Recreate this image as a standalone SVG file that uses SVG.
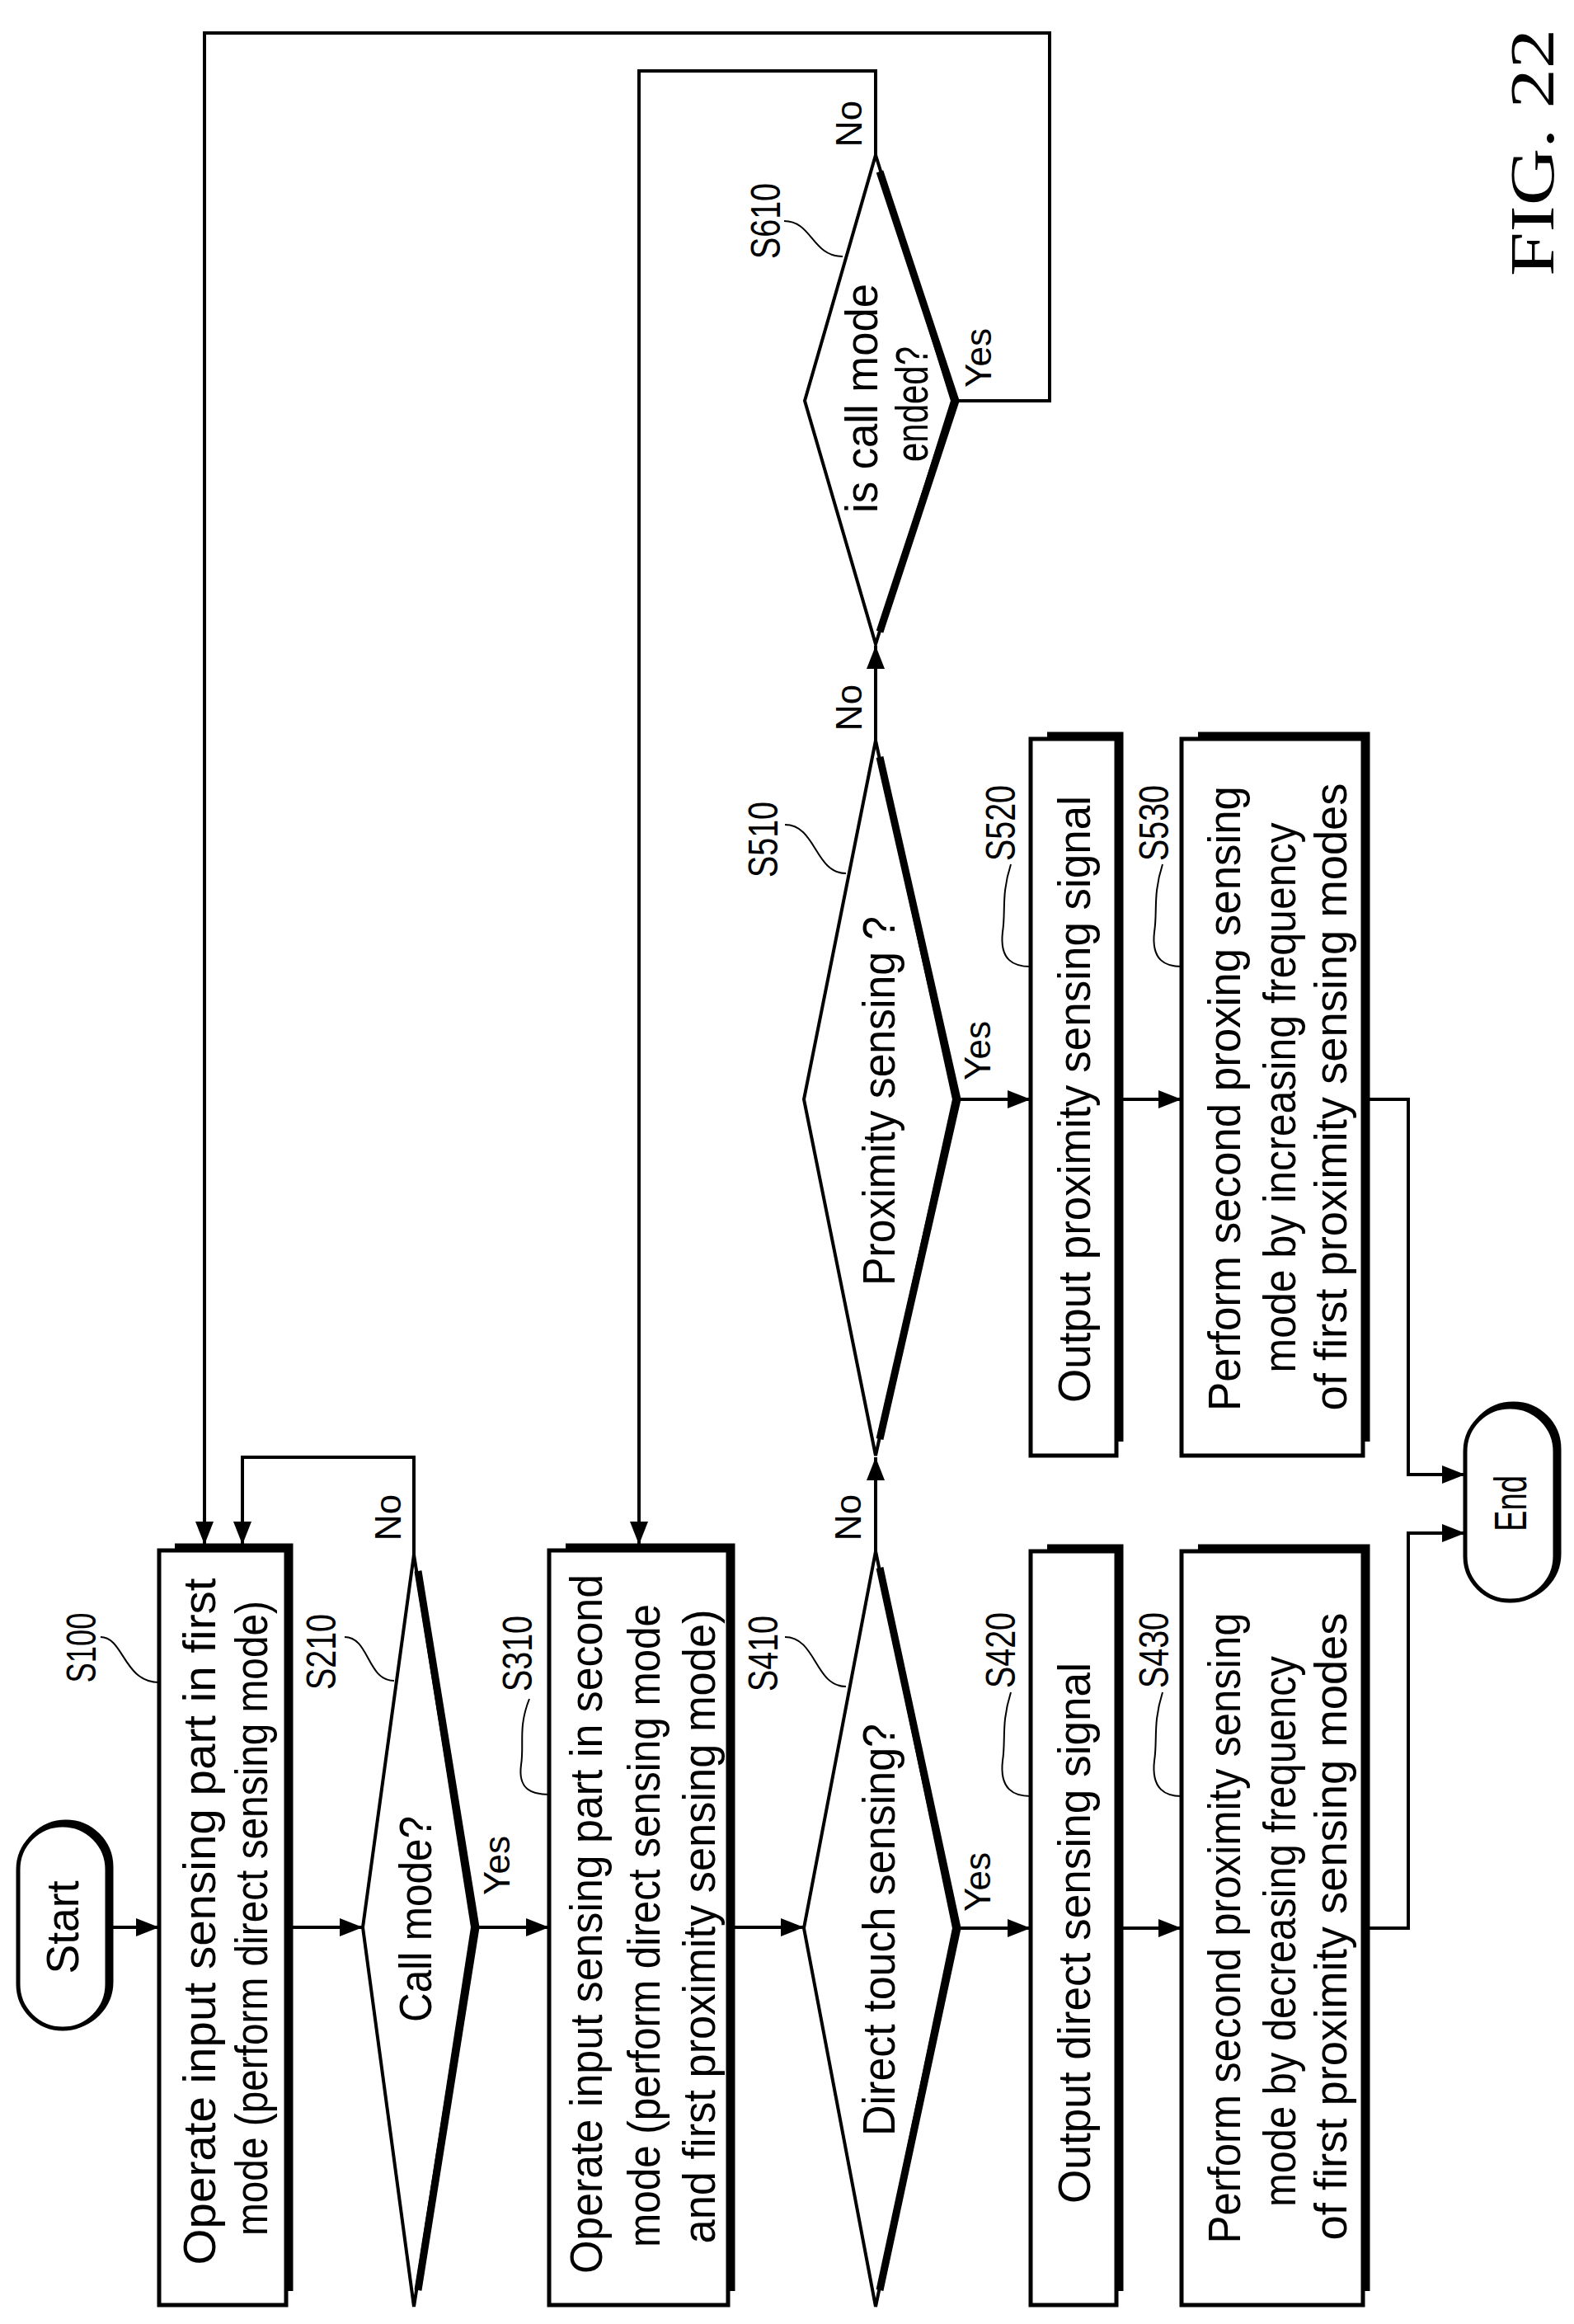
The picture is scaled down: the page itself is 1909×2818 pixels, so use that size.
<svg xmlns="http://www.w3.org/2000/svg" width="1909" height="2818" viewBox="0 0 1909 2818">
<style>
.bg{fill:#fff}
.box{fill:#fff;stroke:#000;stroke-width:5}
.sh{fill:none;stroke:#000;stroke-width:9}
.dia{fill:#fff;stroke:#000;stroke-width:4;stroke-linejoin:miter}
.dsh{fill:none;stroke:#000;stroke-width:9}
.ln{fill:none;stroke:#000;stroke-width:4}
.ld{fill:none;stroke:#000;stroke-width:2}
text{font-family:"Liberation Sans",Arial,sans-serif;fill:#000;text-anchor:middle;dominant-baseline:central}
.t{font-size:55px}
.s{font-size:50px}
.y{font-size:44px}
</style>
<defs>
<marker id="ar" markerUnits="userSpaceOnUse" markerWidth="30" markerHeight="24" refX="28" refY="11" orient="auto">
<path d="M0,0 L28,11 L0,22 z" fill="#000"/>
</marker>
</defs>
<rect class="bg" x="0" y="0" width="1909" height="2818"/>
<text transform="translate(1858,185) rotate(-90)" style="font-family:'Liberation Serif',serif;font-size:76px" textLength="300" lengthAdjust="spacingAndGlyphs">FIG. 22</text>

<g id="connectors">
<path class="ln" d="M132,2337 H193" marker-end="url(#ar)"/>
<path class="ln" d="M352,2337 H440" marker-end="url(#ar)"/>
<path class="ln" d="M573,2337 H666" marker-end="url(#ar)"/>
<path class="ln" d="M887,2337 H975" marker-end="url(#ar)"/>
<path class="ln" d="M1157,2338 H1250" marker-end="url(#ar)"/>
<path class="ln" d="M1361,2338 H1433" marker-end="url(#ar)"/>
<path class="ln" d="M1661,2338 H1708 V1859 H1777" marker-end="url(#ar)"/>
<path class="ln" d="M1157,1333 H1250" marker-end="url(#ar)"/>
<path class="ln" d="M1361,1333 H1433" marker-end="url(#ar)"/>
<path class="ln" d="M1661,1333 H1708 V1788 H1777" marker-end="url(#ar)"/>
<path class="ln" d="M502,1885 V1767 H294 V1873" marker-end="url(#ar)"/>
<path class="ln" d="M1062,1881 V1767" marker-end="url(#ar)"/>
<path class="ln" d="M1062,898 V783" marker-end="url(#ar)"/>
<path class="ln" d="M1062,188 V86 H775 V1873" marker-end="url(#ar)"/>
<path class="ln" d="M1155,486 H1273 V40 H248 V1873" marker-end="url(#ar)"/>
<text class="y" transform="translate(470,1840) rotate(-90)">No</text>
<text class="y" transform="translate(602,2262) rotate(-90)">Yes</text>
<text class="y" transform="translate(1185,2282) rotate(-90)">Yes</text>
<text class="y" transform="translate(1028,1840) rotate(-90)">No</text>
<text class="y" transform="translate(1185,1274) rotate(-90)">Yes</text>
<text class="y" transform="translate(1029,858) rotate(-90)">No</text>
<text class="y" transform="translate(1029,150) rotate(-90)">No</text>
<text class="y" transform="translate(1186,434) rotate(-90)">Yes</text>
</g>

<g id="start">
<rect x="26" y="2210" width="108" height="247" rx="54" fill="none" stroke="#000" stroke-width="7"/>
<rect class="box" x="22" y="2213" width="108" height="247" rx="54"/>
<text class="t" transform="translate(76,2337) rotate(-90)" textLength="113" lengthAdjust="spacingAndGlyphs">Start</text>
</g>

<g id="S100">
<polyline class="sh" points="212,1876 351,1876 351,2778"/>
<rect class="box" x="193" y="1880" width="154" height="915"/>
<text class="t" transform="translate(242,2330) rotate(-90)" textLength="833" lengthAdjust="spacingAndGlyphs">Operate input sensing part in first</text>
<text class="t" transform="translate(305,2326) rotate(-90)" textLength="770" lengthAdjust="spacingAndGlyphs">mode (perform direct sensing mode)</text>
<text class="s" transform="translate(99,1998) rotate(-90)" textLength="85" lengthAdjust="spacingAndGlyphs">S100</text>
<path class="ld" d="M122,1985 C150,1985 150,2040 193,2040"/>
</g>

<g id="S210">
<polygon class="dia" points="502,1885 573,2337 502,2797 440,2337"/>
<polyline class="dsh" points="507,1905 577,2337 507,2777"/>
<text class="t" transform="translate(504,2327) rotate(-90)" textLength="250" lengthAdjust="spacingAndGlyphs">Call mode?</text>
<text class="s" transform="translate(390,2003) rotate(-90)" textLength="92" lengthAdjust="spacingAndGlyphs">S210</text>
<path class="ld" d="M418,1985 C448,1985 445,2038 478,2038"/>
</g>

<g id="S310">
<polyline class="sh" points="686,1876 887,1876 887,2778"/>
<rect class="box" x="666" y="1880" width="217" height="915"/>
<text class="t" transform="translate(711,2333) rotate(-90)" textLength="848" lengthAdjust="spacingAndGlyphs">Operate input sensing part in second</text>
<text class="t" transform="translate(781,2335) rotate(-90)" textLength="780" lengthAdjust="spacingAndGlyphs">mode (perform direct sensing mode</text>
<text class="t" transform="translate(848,2336) rotate(-90)" textLength="769" lengthAdjust="spacingAndGlyphs">and first proximity sensing mode)</text>
<text class="s" transform="translate(628,2005) rotate(-90)" textLength="92" lengthAdjust="spacingAndGlyphs">S310</text>
<path class="ld" d="M642,2060 C628,2095 636,2115 632,2140 C628,2170 645,2176 666,2176"/>
</g>

<g id="S410">
<polygon class="dia" points="1062,1881 1157,2338 1062,2797 975,2338"/>
<polyline class="dsh" points="1067,1901 1161,2338 1067,2777"/>
<text class="t" transform="translate(1066,2340) rotate(-90)" textLength="500" lengthAdjust="spacingAndGlyphs">Direct touch sensing?</text>
<text class="s" transform="translate(926,2005) rotate(-90)" textLength="92" lengthAdjust="spacingAndGlyphs">S410</text>
<path class="ld" d="M952,1985 C990,1985 988,2045 1026,2045"/>
</g>

<g id="S420">
<polyline class="sh" points="1270,1877 1358,1877 1358,2778"/>
<rect class="box" x="1250" y="1881" width="104" height="914"/>
<text class="t" transform="translate(1303,2344) rotate(-90)" textLength="656" lengthAdjust="spacingAndGlyphs">Output direct sensing signal</text>
<text class="s" transform="translate(1214,2001) rotate(-90)" textLength="92" lengthAdjust="spacingAndGlyphs">S420</text>
<path class="ld" d="M1226,2052 C1214,2090 1220,2110 1216,2135 C1212,2170 1230,2178 1250,2178"/>
</g>

<g id="S430">
<polyline class="sh" points="1453,1877 1657,1877 1657,2778"/>
<rect class="box" x="1433" y="1881" width="220" height="914"/>
<text class="t" transform="translate(1485,2338) rotate(-90)" textLength="765" lengthAdjust="spacingAndGlyphs">Perform second proximity sensing</text>
<text class="t" transform="translate(1552,2342) rotate(-90)" textLength="668" lengthAdjust="spacingAndGlyphs">mode by decreasing frequency</text>
<text class="t" transform="translate(1614,2336) rotate(-90)" textLength="761" lengthAdjust="spacingAndGlyphs">of first proximity sensing modes</text>
<text class="s" transform="translate(1400,2001) rotate(-90)" textLength="92" lengthAdjust="spacingAndGlyphs">S430</text>
<path class="ld" d="M1410,2052 C1398,2090 1404,2110 1400,2135 C1396,2170 1414,2178 1433,2178"/>
</g>

<g id="S510">
<polygon class="dia" points="1062,898 1157,1333 1062,1765 975,1333"/>
<polyline class="dsh" points="1067,918 1161,1333 1067,1745"/>
<text class="t" transform="translate(1066,1335) rotate(-90)" textLength="448" lengthAdjust="spacingAndGlyphs">Proximity sensing ?</text>
<text class="s" transform="translate(926,1018) rotate(-90)" textLength="92" lengthAdjust="spacingAndGlyphs">S510</text>
<path class="ld" d="M952,1000 C990,1000 988,1059 1026,1059"/>
</g>

<g id="S520">
<polyline class="sh" points="1270,892 1358,892 1358,1748"/>
<rect class="box" x="1250" y="896" width="104" height="869"/>
<text class="t" transform="translate(1303,1333) rotate(-90)" textLength="736" lengthAdjust="spacingAndGlyphs">Output proximity sensing signal</text>
<text class="s" transform="translate(1214,998) rotate(-90)" textLength="92" lengthAdjust="spacingAndGlyphs">S520</text>
<path class="ld" d="M1226,1048 C1214,1085 1220,1105 1216,1130 C1212,1165 1230,1172 1250,1172"/>
</g>

<g id="S530">
<polyline class="sh" points="1453,892 1657,892 1657,1748"/>
<rect class="box" x="1433" y="896" width="220" height="869"/>
<text class="t" transform="translate(1485,1332) rotate(-90)" textLength="758" lengthAdjust="spacingAndGlyphs">Perform second proxing sensing</text>
<text class="t" transform="translate(1552,1331) rotate(-90)" textLength="667" lengthAdjust="spacingAndGlyphs">mode by increasing frequency</text>
<text class="t" transform="translate(1614,1330) rotate(-90)" textLength="761" lengthAdjust="spacingAndGlyphs">of first proximity sensing modes</text>
<text class="s" transform="translate(1400,998) rotate(-90)" textLength="92" lengthAdjust="spacingAndGlyphs">S530</text>
<path class="ld" d="M1410,1048 C1398,1085 1404,1105 1400,1130 C1396,1165 1414,1172 1433,1172"/>
</g>

<g id="S610">
<polygon class="dia" points="1062,188 1155,486 1062,781 976,486"/>
<polyline class="dsh" points="1067,208 1159,486 1067,766"/>
<text class="t" transform="translate(1045,483) rotate(-90)" textLength="278" lengthAdjust="spacingAndGlyphs">is call mode</text>
<text class="t" transform="translate(1106,490) rotate(-90)" textLength="140" lengthAdjust="spacingAndGlyphs">ended?</text>
<text class="s" transform="translate(929,268) rotate(-90)" textLength="92" lengthAdjust="spacingAndGlyphs">S610</text>
<path class="ld" d="M951,268 C985,268 985,311 1022,311"/>
</g>

<g id="end">
<rect x="1781" y="1703" width="109" height="235" rx="54" fill="none" stroke="#000" stroke-width="7"/>
<rect class="box" x="1777" y="1706" width="109" height="235" rx="54"/>
<text class="t" transform="translate(1832,1823) rotate(-90)" textLength="68" lengthAdjust="spacingAndGlyphs">End</text>
</g>
</svg>
